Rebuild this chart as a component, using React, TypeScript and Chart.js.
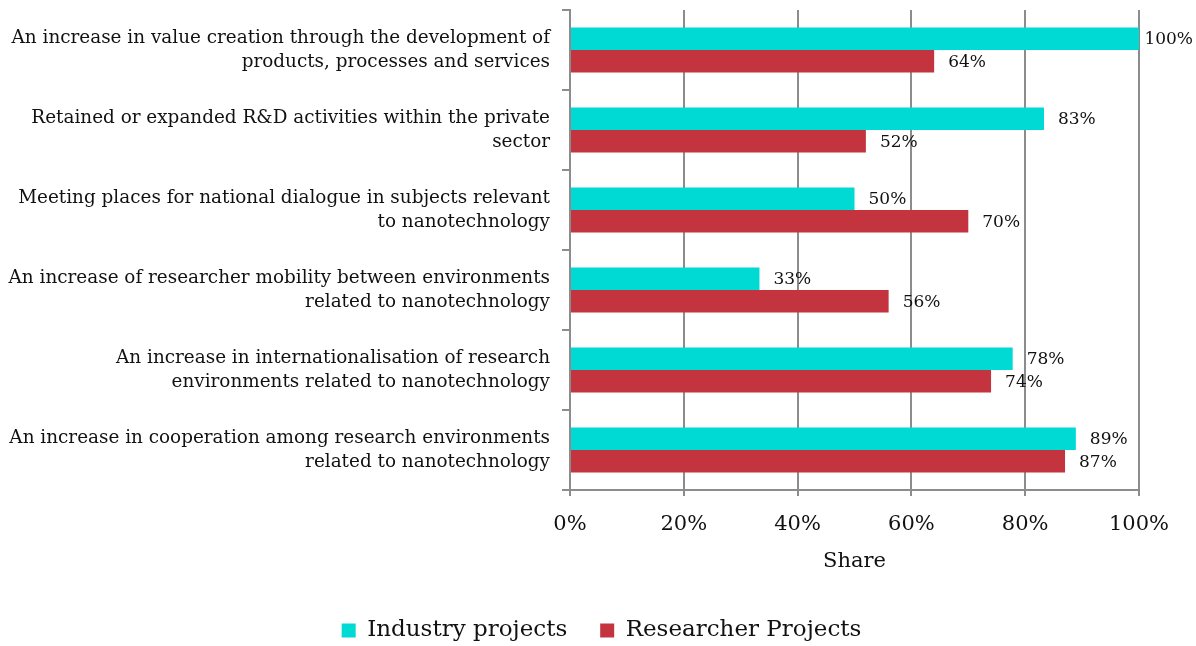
import React, { useEffect, useRef } from "react";
import { Chart, registerables } from "chart.js";

Chart.register(...registerables);

const categories: string[][] = [
  ["An increase in value creation through the development of", "products, processes and services"],
  ["Retained or expanded R&D activities within the private", "sector"],
  ["Meeting places for national dialogue in subjects relevant", "to nanotechnology"],
  ["An increase of researcher mobility between environments", "related to nanotechnology"],
  ["An increase in internationalisation of research", "environments related to nanotechnology"],
  ["An increase in cooperation among research environments", "related to nanotechnology"],
];
const industryValues = [100, 83.3, 50, 33.3, 77.8, 88.9];
const researcherValues = [64, 52, 70, 56, 74, 87];
const seriesNames = ["Industry projects", "Researcher Projects"];
const xTicks = [0, 20, 40, 60, 80, 100];

const FONT = "'DejaVu Serif', 'Liberation Serif', serif";
const GRID = "#8c8c8c";

const labelPlugin = {
  id: "barLabels",
  afterDatasetsDraw(chart: any) {
    const ctx = chart.ctx;
    ctx.save();
    ctx.font = `17px ${FONT}`;
    ctx.fillStyle = "#111";
    ctx.textBaseline = "middle";
    ctx.textAlign = "left";
    chart.data.datasets.forEach((ds: any, di: number) => {
      const meta = chart.getDatasetMeta(di);
      meta.data.forEach((el: any, i: number) => {
        const txt = Math.round(ds.data[i]) + "%";
        const w = ctx.measureText(txt).width;
        let x = el.x + 14;
        if (x + w > chart.width - 3) x = chart.width - 3 - w;
        ctx.fillText(txt, x, el.y + 1);
      });
    });
    ctx.restore();
  },
};

const legendPlacePlugin = {
  id: "legendPlace",
  beforeLayout(chart: any) {
    const lg = chart.legend;
    if (lg && !lg._fixedFit) {
      const orig = lg.fit.bind(lg);
      lg.fit = function () {
        orig();
        this.height = 67;
      };
      lg._fixedFit = true;
    }
  },
  afterLayout(chart: any) {
    const lg = chart.legend;
    if (!lg) return;
    lg.left += 32;
    lg.right += 32;
    lg.top += 7;
    lg.bottom += 7;
  },
};

export default function App() {
  const ref = useRef<HTMLCanvasElement>(null);
  useEffect(() => {
    if (!ref.current) return;
    const chart = new Chart(ref.current, {
      type: "bar",
      data: {
        labels: categories,
        datasets: [
          {
            label: seriesNames[0],
            data: industryValues,
            backgroundColor: "#00DAD4",
            categoryPercentage: 0.5625,
            barPercentage: 1,
          },
          {
            label: seriesNames[1],
            data: researcherValues,
            backgroundColor: "#C3343F",
            categoryPercentage: 0.5625,
            barPercentage: 1,
          },
        ],
      },
      options: {
        indexAxis: "y",
        animation: false,
        responsive: false,
        layout: { padding: { top: 10, right: 57, bottom: 0, left: 0 } },
        plugins: {
          tooltip: { enabled: false },
          legend: {
            position: "bottom",
            labels: {
              font: { family: FONT, size: 23, lineHeight: 1 },
              color: "#111",
              boxWidth: 14,
              boxHeight: 14,
              padding: 33,
            },
          },
        },
        scales: {
          x: {
            min: 0,
            max: 100,
            afterBuildTicks: (scale: any) => {
              scale.ticks = xTicks.map((v) => ({ value: v }));
            },
            afterFit: (scale: any) => {
              scale.height = 89;
            },
            ticks: {
              callback: (v: any) => v + "%",
              font: { family: FONT, size: 21 },
              color: "#111",
              padding: 16,
              maxRotation: 0,
            },
            grid: { color: GRID, lineWidth: 2, tickLength: 6 },
            border: { color: GRID, width: 2 },
            title: {
              display: true,
              text: "Share",
              font: { family: FONT, size: 21 },
              color: "#111",
              padding: { top: 4, bottom: 5 },
            },
          },
          y: {
            afterFit: (scale: any) => {
              scale.width = 570;
              scale.paddingTop = 0;
              scale.paddingBottom = 0;
            },
            ticks: {
              font: { family: FONT, size: 18.4, lineHeight: 1.3 },
              color: "#111",
              padding: 12,
            },
            grid: {
              offset: true,
              drawOnChartArea: false,
              drawTicks: true,
              tickLength: 8,
              color: GRID,
              lineWidth: 2,
            },
            border: { color: GRID, width: 2 },
          },
        },
      },
      plugins: [labelPlugin, legendPlacePlugin],
    });
    return () => chart.destroy();
  }, []);
  return (
    <div style={{ position: "fixed", left: 0, top: 0, width: 1196, height: 646, background: "#fff" }}>
      <canvas ref={ref} width={1196} height={646} />
    </div>
  );
}
